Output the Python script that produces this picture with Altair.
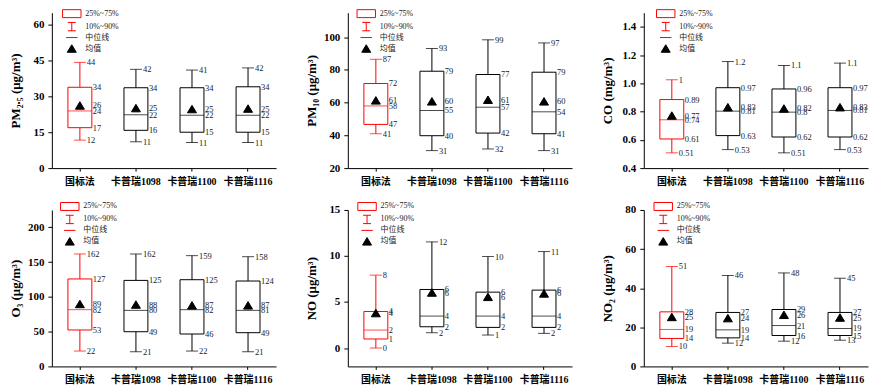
import altair as alt
import pandas as pd

CATS = ["国标法", "卡普瑞1098", "卡普瑞1100", "卡普瑞1116"]
BOX_COLORS = ["#ff0000", "#000000", "#000000", "#000000"]
KINDS = ["25%~75%", "10%~90%", "中位线", "均值"]

# ---- PM2.5 ----
pm25_p90 = [44.2, 41.3, 41.0, 41.9]
pm25_q75 = [33.8, 33.6, 33.6, 34.0]
pm25_mean = [26.2, 25.1, 24.7, 24.9]
pm25_med = [23.9, 22.3, 22.1, 22.1]
pm25_q25 = [16.9, 15.8, 15.0, 15.0]
pm25_p10 = [11.7, 11.0, 10.7, 10.7]
pm25_lab = [["44", "42", "41", "42"], ["34", "34", "34", "34"], ["26", "25", "25", "25"],
            ["24", "22", "22", "22"], ["17", "16", "15", "15"], ["12", "11", "11", "11"]]

# ---- PM10 ----
pm10_p90 = [86.5, 93.1, 98.4, 96.5]
pm10_q75 = [71.7, 79.2, 77.2, 78.6]
pm10_mean = [61.4, 60.8, 61.8, 60.8]
pm10_med = [58.0, 55.2, 57.2, 54.4]
pm10_q25 = [46.7, 39.8, 41.4, 41.0]
pm10_p10 = [41.0, 30.7, 31.7, 30.7]
pm10_lab = [["87", "93", "99", "97"], ["72", "79", "77", "79"], ["61", "60", "61", "60"],
            ["58", "55", "57", "54"], ["47", "40", "42", "41"], ["41", "31", "32", "31"]]

# ---- CO ----
co_p90 = [1.025, 1.154, 1.126, 1.143]
co_q75 = [0.885, 0.969, 0.960, 0.969]
co_mean = [0.772, 0.831, 0.822, 0.831]
co_med = [0.742, 0.803, 0.796, 0.808]
co_q25 = [0.606, 0.630, 0.620, 0.620]
co_p10 = [0.508, 0.531, 0.508, 0.531]
co_lab = [["1", "1.2", "1.1", "1.1"], ["0.89", "0.97", "0.96", "0.97"], ["0.77", "0.83", "0.82", "0.83"],
          ["0.74", "0.81", "0.8", "0.81"], ["0.61", "0.63", "0.62", "0.62"], ["0.51", "0.53", "0.51", "0.53"]]

# ---- O3 ----
o3_p90 = [161.7, 161.7, 159.3, 157.8]
o3_q75 = [125.8, 123.7, 124.7, 122.8]
o3_mean = [89.8, 89.0, 87.8, 87.8]
o3_med = [81.6, 80.6, 81.6, 80.6]
o3_q25 = [52.4, 49.9, 46.6, 48.5]
o3_p10 = [22.1, 21.1, 22.1, 21.1]
o3_lab = [["162", "162", "159", "158"], ["127", "125", "125", "124"], ["89", "88", "87", "87"],
          ["82", "80", "82", "81"], ["53", "49", "46", "49"], ["22", "21", "22", "21"]]

# ---- NO ----
no_p90 = [7.92, 11.53, 9.94, 10.48]
no_q75 = [3.97, 6.36, 6.07, 6.29]
no_mean = [3.80, 6.03, 5.56, 5.93]
no_med = [1.95, 3.47, 3.47, 3.47]
no_q25 = [0.98, 2.31, 2.24, 2.24]
no_p10 = [0.00, 1.66, 1.41, 1.59]
no_lab = [["8", "12", "10", "11"], ["4", "6", "6", "6"], ["4", "6", "6", "6"],
          ["2", "4", "4", "4"], ["1", "2", "2", "2"], ["0", "2", "1", "2"]]

# ---- NO2 ----
no2_p90 = [51.1, 46.5, 47.8, 45.1]
no2_q75 = [27.9, 27.6, 29.1, 27.6]
no2_mean = [25.3, 24.7, 26.4, 25.0]
no2_med = [18.9, 18.7, 20.9, 19.4]
no2_q25 = [14.3, 14.6, 15.8, 15.8]
no2_p10 = [10.2, 11.9, 12.9, 13.4]
no2_lab = [["51", "46", "48", "45"], ["28", "27", "29", "27"], ["25", "24", "26", "25"],
           ["19", "19", "21", "19"], ["14", "14", "16", "15"], ["10", "12", "12", "13"]]

TITLES = ["PM₂.₅ (μg/m³)", "PM₁₀ (μg/m³)", "CO (mg/m³)", "O₃ (μg/m³)", "NO (μg/m³)", "NO₂ (μg/m³)"]
DOMAINS = [[0, 65], [20, 115], [0.4, 1.5], [0, 225], [-2, 15], [0, 80]]
TICKS = [[0, 15, 30, 45, 60], [20, 40, 60, 80, 100], [0.4, 0.6, 0.8, 1.0, 1.2, 1.4],
         [0, 50, 100, 150, 200], [0, 5, 10, 15], [0, 20, 40, 60, 80]]
FORMATS = ["d", "d", ".1f", "d", "d", "d"]
LEG_X = [15.5, 14, 17.5, 13.5, 14.8, 15]
LEG_Y = [-3.5, -3.5, -3.5, -8, -8, -8]
HEIGHTS = [156, 156, 156, 157, 157, 157]

SERIES = [
    (pm25_p90, pm25_q75, pm25_mean, pm25_med, pm25_q25, pm25_p10, pm25_lab),
    (pm10_p90, pm10_q75, pm10_mean, pm10_med, pm10_q25, pm10_p10, pm10_lab),
    (co_p90, co_q75, co_mean, co_med, co_q25, co_p10, co_lab),
    (o3_p90, o3_q75, o3_mean, o3_med, o3_q25, o3_p10, o3_lab),
    (no_p90, no_q75, no_mean, no_med, no_q25, no_p10, no_lab),
    (no2_p90, no2_q75, no2_mean, no2_med, no2_q25, no2_p10, no2_lab),
]

SERIF = "Liberation Serif, Noto Sans CJK SC"
RED = "#ff0000"
TXT = "#222222"

# legend symbol paths (scaled by sqrt(60)/2 in Vega)
RECT_PATH = "M-2.39,-1.03H2.39V1.03H-2.39Z"
WHISK_PATH = "M-1.03,-1.08H1.03M0,-1.08V1.08M-1.03,1.08H1.03"
LINE_PATH = "M-1.48,0H1.48"
TRI_PATH = "M0,-0.97L1.16,0.97L-1.16,0.97Z"


def panel(i):
    p90, q75, mean, med, q25, p10, lab = SERIES[i]
    df = pd.DataFrame({"cat": CATS, "p90": p90, "q75": q75, "mean": mean, "med": med,
                       "q25": q25, "p10": p10, "col": BOX_COLORS, "kind": ["均值"] * 4})
    stats = [("p90", p90, "w"), ("q75", q75, "b"), ("mean", mean, "b"),
             ("med", med, "b"), ("q25", q25, "b"), ("p10", p10, "w")]
    rows = []
    for k, (name, vals, grp) in enumerate(stats):
        for j, c in enumerate(CATS):
            rows.append({"cat": c, "v": vals[j], "lab": lab[k][j], "grp": grp})
    ldf = pd.DataFrame(rows)

    xenc = alt.X("cat:N", sort=CATS,
                 scale=alt.Scale(domain=CATS, paddingInner=0, paddingOuter=0),
                 axis=alt.Axis(title=None, labelAngle=0, tickSize=3, labelPadding=5,
                               labelFont=SERIF, labelFontSize=10, labelFontWeight="bold",
                               labelColor="#000", domainColor="#000", tickColor="#000",
                               grid=False, labelOverlap=False))
    yscale = alt.Scale(domain=DOMAINS[i], nice=False, zero=False)
    yaxis = alt.Axis(title=TITLES[i], values=TICKS[i], format=FORMATS[i], grid=False,
                     tickSize=4, labelPadding=4, labelFont=SERIF, labelFontSize=11,
                     labelFontWeight="bold", labelColor="#000", domainColor="#000",
                     tickColor="#000", titleFont=SERIF, titleFontSize=13,
                     titleFontWeight="bold", titleColor="#000", titleX=-36,
                     titleBaseline="middle", labelOverlap=False, labelFlush=False)

    def Y(field):
        return alt.Y(field, scale=yscale, axis=yaxis)

    colr = alt.Color("col:N", scale=None)
    base = alt.Chart(df)

    whisk = base.mark_rule(strokeWidth=1).encode(
        x=xenc, y=Y("p10:Q"), y2="p90:Q", color=colr)
    box = base.mark_bar(size=24, filled=False, fill="white", strokeWidth=1).encode(
        x=xenc, y=Y("q25:Q"), y2="q75:Q", color=colr)
    cap_lo = base.mark_tick(size=12, thickness=1).encode(x=xenc, y=Y("p10:Q"), color=colr)
    cap_hi = base.mark_tick(size=12, thickness=1).encode(x=xenc, y=Y("p90:Q"), color=colr)
    median = base.mark_tick(size=24, thickness=1).encode(x=xenc, y=Y("med:Q"), color=colr)

    leg = alt.Legend(title=None, orient="none", legendX=LEG_X[i], legendY=LEG_Y[i],
                     symbolSize=60, symbolStrokeWidth=1, labelFont=SERIF, labelFontSize=8,
                     labelColor=TXT, labelOffset=9, rowPadding=0, padding=0,
                     direction="vertical")
    mean_pts = base.mark_point(filled=True, size=60, opacity=1, strokeWidth=1).encode(
        x=xenc, y=Y("mean:Q"),
        shape=alt.Shape("kind:N", scale=alt.Scale(domain=KINDS,
                        range=[RECT_PATH, WHISK_PATH, LINE_PATH, TRI_PATH]), legend=leg),
        fill=alt.Fill("kind:N", scale=alt.Scale(domain=KINDS,
                      range=["transparent", "transparent", "transparent", "#000"]), legend=leg),
        stroke=alt.Stroke("kind:N", scale=alt.Scale(domain=KINDS,
                          range=[RED, RED, RED, "#000"]), legend=leg),
    )

    tbase = alt.Chart(ldf)
    tw = tbase.transform_filter("datum.grp == 'w'").mark_text(
        align="left", baseline="middle", dx=7, font=SERIF, fontSize=8.5, fill=TXT).encode(
        x=xenc, y=Y("v:Q"), text="lab:N")
    tb = tbase.transform_filter("datum.grp == 'b'").mark_text(
        align="left", baseline="middle", dx=13, font=SERIF, fontSize=8.5, fill=TXT).encode(
        x=xenc, y=Y("v:Q"), text="lab:N")

    return alt.layer(whisk, box, cap_lo, cap_hi, median, mean_pts, tw, tb).properties(
        width=225, height=HEIGHTS[i])


chart = alt.concat(*[panel(i) for i in range(6)], columns=3,
                   spacing={"row": 42, "column": 72}, bounds="flush").resolve_scale(
    shape="independent", fill="independent", stroke="independent", y="independent",
    x="independent").resolve_legend(
    shape="independent", fill="independent", stroke="independent").properties(
    padding={"left": 2, "top": 0, "right": 5, "bottom": 5}
).configure_view(stroke=None).configure_axis(labelOverlap=False)

chart.save("out.html", embed_options={"renderer": "svg", "actions": False})
